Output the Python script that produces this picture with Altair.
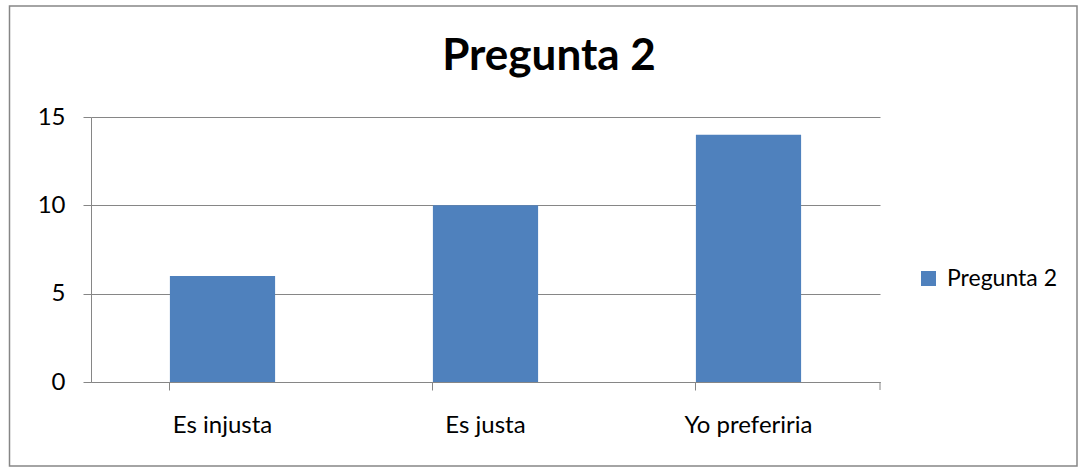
import altair as alt
import pandas as pd

# Survey answers for question 2
categories = ["Es injusta", "Es justa", "Yo preferiria"]
counts = [6, 10, 14]
series_name = "Pregunta 2"
chart_title = "Pregunta 2"

df = pd.DataFrame({"respuesta": categories, "cantidad": counts, "serie": [series_name] * len(categories)})

GRAY = "#868686"
FONT = "Lato"

bars = alt.Chart(df).mark_bar(color="#4F81BD").encode(
    x=alt.X(
        "respuesta:N",
        sort=categories,
        scale=alt.Scale(paddingInner=0.6, paddingOuter=0.3),
        axis=alt.Axis(
            title=None,
            labelAngle=0,
            bandPosition=0,
            tickSize=8,
            tickColor=GRAY,
            domainColor=GRAY,
            labelBaseline="alphabetic",
            labelPadding=42,
            grid=False,
        ),
    ),
    y=alt.Y(
        "cantidad:Q",
        scale=alt.Scale(domain=[0, 15], nice=False),
        axis=alt.Axis(
            title=None,
            values=[0, 5, 10, 15],
            tickSize=8,
            tickColor=GRAY,
            domainColor=GRAY,
            gridColor=GRAY,
            labelPadding=18,
        ),
    ),
    color=alt.Color(
        "serie:N",
        scale=alt.Scale(domain=[series_name], range=["#4F81BD"]),
        legend=alt.Legend(
            title=None,
            orient="none",
            legendX=826,
            legendY=150,
            symbolType="square",
            symbolSize=225,
            symbolStrokeWidth=0,
            labelOffset=7,
            padding=0,
        ),
    ),
)

one = alt.Data(values=[{}])

# closing tick at the right end of the category axis
end_tick = alt.Chart(one).mark_rule(color=GRAY).encode(
    x=alt.value(789), y=alt.value(265), y2=alt.value(273)
)

# frame around the whole chart
frame = alt.Chart(one).mark_rect(fill=None, stroke=GRAY, strokeWidth=1.5).encode(
    x=alt.value(-81.5), x2=alt.value(986), y=alt.value(-111), y2=alt.value(349)
)

# chart heading, centred over the whole frame
heading = alt.Chart(one).mark_text(
    text=chart_title,
    font=FONT,
    fontSize=44,
    fontWeight="bold",
    color="black",
    align="center",
    baseline="alphabetic",
).encode(x=alt.value(458), y=alt.value(-47))

chart = (
    alt.layer(bars, end_tick, frame, heading)
    .properties(
        width=789,
        height=265,
        autosize=alt.AutoSizeParams(type="none"),
        padding={"left": 91, "top": 117, "right": 206, "bottom": 86},
        background="white",
    )
    .configure_view(strokeWidth=0)
    .configure_axis(labelFont=FONT, labelFontSize=24, labelColor="black", domainWidth=1)
    .configure_legend(labelFont=FONT, labelFontSize=23, labelColor="black")
)

chart.save("out.html", embed_options={"renderer": "svg", "actions": False})
